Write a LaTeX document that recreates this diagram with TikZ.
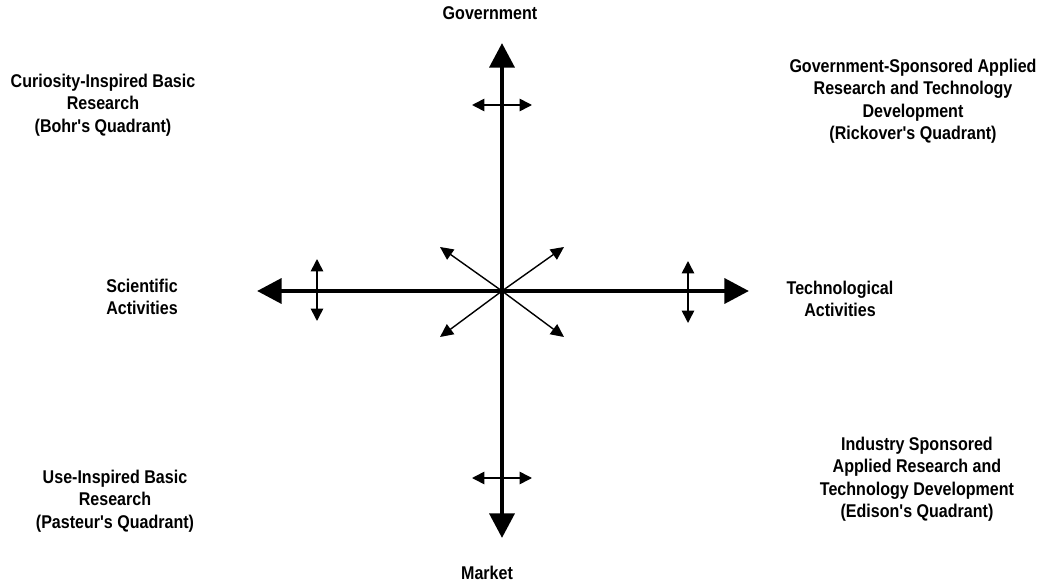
\documentclass[tikz,border=0pt]{standalone}
\usepackage{fontspec}
\newfontfamily\quadfont{Liberation Sans}[FakeStretch=0.87]
\usetikzlibrary{arrows.meta}
\tikzset{
  font=\quadfont\bfseries\fontsize{10.5}{12.8}\selectfont,
  axis/.style={{Triangle[length=14pt,width=14pt]}-{Triangle[length=14pt,width=14pt]},
               line width=2.7pt},
  wiggle/.style={{Triangle[length=7pt,width=7pt]}-{Triangle[length=7pt,width=7pt]},
                 line width=0.9pt},
  spoke/.style={-{Triangle[length=7.5pt,width=7pt]},line width=0.8pt},
  quadlabel/.style={align=center,inner sep=0pt},
}

\begin{document}
\begin{tikzpicture}[x=0.02cm,y=-0.02cm]
  \useasboundingbox (0,0) rectangle (1045,588);

  % axes
  \coordinate (O) at (502,291);
  \coordinate (N) at (502,43);
  \coordinate (S) at (502,538);
  \coordinate (W) at (257,291);
  \coordinate (E) at (749,291);
  \draw[axis] (S) -- (N);
  \draw[axis] (W) -- (E);

  % small two-way arrows across the axes
  \coordinate (n1) at (472,105);  \coordinate (n2) at (532,105);
  \coordinate (s1) at (472,478);  \coordinate (s2) at (532,478);
  \coordinate (w1) at (317,259);  \coordinate (w2) at (317,321);
  \coordinate (e1) at (688,261);  \coordinate (e2) at (688,323);
  \draw[wiggle] (n1) -- (n2);
  \draw[wiggle] (s1) -- (s2);
  \draw[wiggle] (w1) -- (w2);
  \draw[wiggle] (e1) -- (e2);

  % diagonal spokes from the origin
  \foreach \name/\dx/\dy in {nw/-62/-44, ne/62/-44, sw/-62/46, se/62/46} {
    \coordinate (\name) at (502+\dx,291+\dy);
    \draw[spoke] (O) -- (\name);
  }

  % axis labels
  \node[quadlabel] (gov) at (490,13) {Government};
  \node[quadlabel] (mkt) at (487,573) {Market};
  \node[quadlabel] (sci) at (142,297) {Scientific\\Activities};
  \node[quadlabel] (tech) at (840,299) {Technological\\Activities};

  % quadrant labels
  \node[quadlabel] (bohr) at (103,105)
    {Curiosity-Inspired Basic\\Research\\(Bohr's Quadrant)};
  \node[quadlabel] (rick) at (913,101)
    {Government-Sponsored Applied\\Research and Technology\\Development\\(Rickover's Quadrant)};
  \node[quadlabel] (past) at (115,501)
    {Use-Inspired Basic\\Research\\(Pasteur's Quadrant)};
  \node[quadlabel] (edis) at (917,479)
    {Industry Sponsored\\Applied Research and\\Technology Development\\(Edison's Quadrant)};
\end{tikzpicture}
\end{document}
